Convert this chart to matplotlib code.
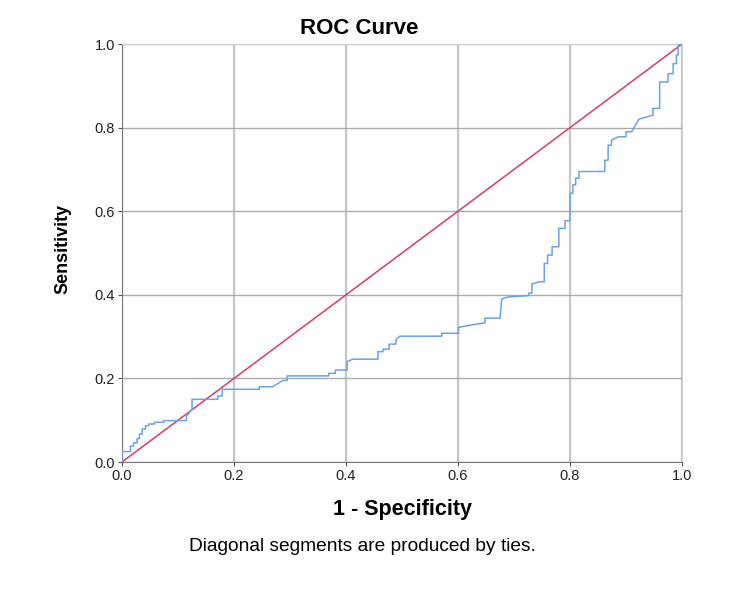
import numpy as np
import matplotlib.pyplot as plt

plt.rcParams['font.family'] = ['Liberation Sans', 'DejaVu Sans']

# ROC curve vertices (1 - specificity, sensitivity)
fpr = [0.0, 0.0, 0.015, 0.015, 0.0205, 0.0205, 0.027, 0.027, 0.031, 0.031,
       0.036, 0.036, 0.042, 0.042, 0.048, 0.048, 0.058, 0.058, 0.074, 0.074,
       0.115, 0.115, 0.125, 0.125, 0.159, 0.171, 0.171, 0.179, 0.179, 0.245,
       0.245, 0.269, 0.287, 0.295, 0.295, 0.369, 0.369, 0.381, 0.381, 0.402,
       0.402, 0.412, 0.457, 0.457, 0.466, 0.466, 0.477, 0.477, 0.489, 0.489,
       0.496, 0.571, 0.571, 0.601, 0.601, 0.616, 0.648, 0.648, 0.675, 0.678,
       0.69, 0.726, 0.726, 0.732, 0.732, 0.745, 0.754, 0.754, 0.760, 0.760,
       0.768, 0.768, 0.780, 0.780, 0.791, 0.791, 0.800, 0.800, 0.805, 0.805,
       0.810, 0.810, 0.816, 0.816, 0.862, 0.862, 0.868, 0.868, 0.874, 0.874,
       0.886, 0.900, 0.900, 0.910, 0.923, 0.948, 0.948, 0.960, 0.960, 0.975,
       0.975, 0.984, 0.984, 0.990, 0.990, 0.993, 0.993, 1.0]
tpr = [0.0, 0.025, 0.025, 0.038, 0.038, 0.046, 0.046, 0.056, 0.056, 0.067,
       0.067, 0.079, 0.079, 0.087, 0.087, 0.091, 0.091, 0.095, 0.095, 0.099,
       0.099, 0.11, 0.126, 0.150, 0.150, 0.150, 0.158, 0.158, 0.174, 0.174,
       0.180, 0.180, 0.195, 0.195, 0.206, 0.206, 0.212, 0.212, 0.220, 0.220,
       0.240, 0.246, 0.246, 0.264, 0.264, 0.270, 0.270, 0.282, 0.282, 0.292,
       0.301, 0.301, 0.308, 0.308, 0.322, 0.326, 0.333, 0.344, 0.344, 0.390,
       0.395, 0.398, 0.404, 0.404, 0.426, 0.431, 0.431, 0.475, 0.475, 0.495,
       0.495, 0.515, 0.515, 0.559, 0.559, 0.577, 0.577, 0.643, 0.643, 0.663,
       0.663, 0.679, 0.679, 0.695, 0.695, 0.722, 0.722, 0.758, 0.758, 0.770,
       0.778, 0.778, 0.790, 0.790, 0.820, 0.830, 0.846, 0.846, 0.909, 0.909,
       0.929, 0.929, 0.953, 0.953, 0.974, 0.974, 0.997, 1.0]
ref_line = [0.0, 1.0]
ticks = [0.0, 0.2, 0.4, 0.6, 0.8, 1.0]
tick_labels = ['0.0', '0.2', '0.4', '0.6', '0.8', '1.0']

fig = plt.figure(figsize=(7.5, 5.93), dpi=100)
ax = fig.add_axes([0.1627, 0.2209, 0.7467, 0.7049])

ax.plot(ref_line, ref_line, color='#e03a5e', lw=1.1, zorder=3)
ax.plot(fpr, tpr, color='#6aa3e6', lw=1.1, zorder=4)

ax.set_xlim(0, 1)
ax.set_ylim(0, 1)
ax.set_xticks(ticks)
ax.set_yticks(ticks)
ax.set_xticklabels(tick_labels)
ax.set_yticklabels(tick_labels)
ax.tick_params(labelsize=10.5, length=3, color='#555555', pad=2, labelcolor='#222222')
ax.xaxis.grid(True, color='#c6c6c6', lw=1.6)
ax.yaxis.grid(True, color='#acacac', lw=1.0)
ax.set_axisbelow(True)
for s in ['top', 'right']:
    ax.spines[s].set_color('#cfcfcf')
for s in ['left', 'bottom']:
    ax.spines[s].set_color('#777777')

fig.text(0.479, 0.952, 'ROC Curve', ha='center', va='center', fontsize=16, fontweight='bold')
fig.text(0.537, 0.141, '1 - Specificity', ha='center', va='center', fontsize=15.5, fontweight='bold')
fig.text(0.084, 0.58, 'Sensitivity', ha='center', va='center', fontsize=13,
         fontweight='bold', rotation=90)
fig.text(0.483, 0.079, 'Diagonal segments are produced by ties.', ha='center',
         va='center', fontsize=13.8)

plt.savefig('out.png', dpi=100)
